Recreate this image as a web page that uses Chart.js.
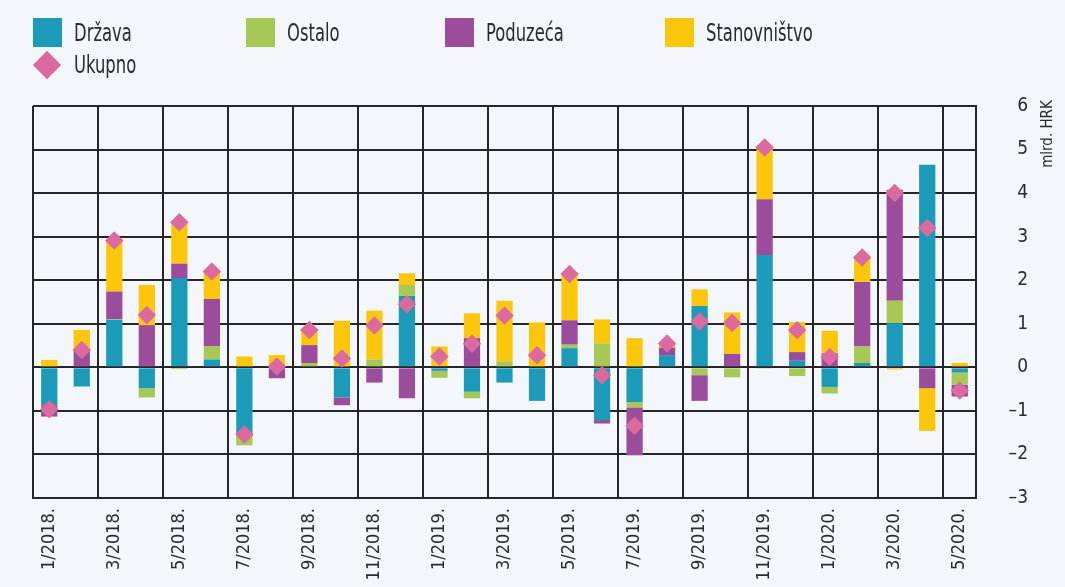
<!DOCTYPE html>
<html><head><meta charset="utf-8">
<script src="https://cdn.jsdelivr.net/npm/chart.js@4.4.1/dist/chart.umd.min.js"></script>
<style>
html,body{margin:0;padding:0;background:#f3f6fa;}
#wrap{position:relative;width:1065px;height:587px;overflow:hidden;}
canvas{position:absolute;left:0;top:0;}
.lg{position:absolute;font-family:"Liberation Sans Narrow","Arial Narrow","DejaVu Sans Condensed",sans-serif;font-size:24px;color:#2b2b2b;line-height:30px;white-space:nowrap;transform:scaleX(0.76);transform-origin:0 50%;}
.bx{position:absolute;width:29px;height:29px;}
.dm{position:absolute;width:20px;height:20px;transform:rotate(45deg);}
</style></head><body>
<div id="wrap"><canvas id="c" width="1065" height="587"></canvas><div id="legend"></div></div>
<script>
const categories = ["1/2018.","2/2018.","3/2018.","4/2018.","5/2018.","6/2018.","7/2018.","8/2018.","9/2018.","10/2018.","11/2018.","12/2018.",
  "1/2019.","2/2019.","3/2019.","4/2019.","5/2019.","6/2019.","7/2019.","8/2019.","9/2019.","10/2019.","11/2019.","12/2019.",
  "1/2020.","2/2020.","3/2020.","4/2020.","5/2020."];
const drzava       = [-0.87,-0.44,1.09,-0.48,2.05,0.18,-1.52,0,0,-0.69,0,1.64,-0.08,-0.56,-0.35,-0.77,0.44,-1.21,-0.80,0.28,1.41,0,2.58,0.15,-0.45,0.10,1.01,4.65,-0.12];
const ostalo       = [0,0,0.02,-0.21,-0.04,0.31,-0.27,0,0.10,0,0.18,0.25,-0.16,-0.15,0.13,0,0.08,0.55,-0.12,0,-0.18,-0.23,-0.03,-0.20,-0.15,0.38,0.52,0,-0.28];
const poduzeca     = [-0.26,0.40,0.63,0.97,0.33,1.08,0,-0.25,0.41,-0.18,-0.35,-0.71,0.03,0.67,0,0,0.56,-0.08,-1.10,0.17,-0.59,0.31,1.28,0.20,0.32,1.48,2.55,-0.48,-0.27];
const stanovnistvo = [0.17,0.46,1.15,0.92,0.94,0.61,0.25,0.28,0.38,1.07,1.12,0.27,0.45,0.57,1.40,1.03,1.05,0.55,0.67,0.08,0.38,0.95,1.17,0.69,0.52,0.54,-0.05,-0.98,0.10];
const ukupno       = [-0.96,0.40,2.91,1.20,3.33,2.20,-1.54,0.02,0.86,0.20,0.96,1.45,0.25,0.54,1.19,0.28,2.14,-0.18,-1.34,0.55,1.05,1.02,5.05,0.85,0.24,2.52,4.00,3.20,-0.53];
const seriesNames  = ["Država","Ostalo","Poduzeća","Stanovništvo","Ukupno"];
const seriesColors = ["#1b9bb9","#a6c955","#9b4d9b","#fcc70a","#dc6a9f"];
const yTitle = "mlrd. HRK";

const FONT = '"Liberation Sans Narrow","Arial Narrow","DejaVu Sans Condensed",sans-serif';
const GRID = "#262626";

// HTML legend
const legendPos = [{x:33,y:18},{x:246,y:18},{x:445,y:18},{x:665,y:18},{x:33,y:50}];
const legend = document.getElementById('legend');
seriesNames.forEach((n,i)=>{
  const p = legendPos[i];
  if (i < 4) {
    const b = document.createElement('div'); b.className='bx';
    b.style.left=p.x+'px'; b.style.top=p.y+'px'; b.style.background=seriesColors[i];
    legend.appendChild(b);
  } else {
    const d = document.createElement('div'); d.className='dm';
    d.style.left=(p.x+4)+'px'; d.style.top=(p.y+5)+'px'; d.style.background=seriesColors[i];
    legend.appendChild(d);
  }
  const t = document.createElement('div'); t.className='lg';
  t.style.left=(p.x+41)+'px'; t.style.top=(p.y)+'px'; t.textContent=n;
  legend.appendChild(t);
});

const topPlugin = {
  id:'topLayer',
  afterDraw(chart){
    const ctx = chart.ctx;
    const meta = chart.getDatasetMeta(4);
    meta.data.forEach(p=>p.draw(ctx, chart.chartArea));
    const ys = chart.scales.y;
    ctx.save();
    ctx.translate(ys.right + 20, chart.chartArea.top + 28);
    ctx.rotate(-Math.PI/2);
    ctx.font = '15px ' + FONT;
    ctx.fillStyle = '#2b2b2b';
    ctx.textAlign='center'; ctx.textBaseline='middle';
    ctx.fillText(yTitle,0,0);
    ctx.restore();
  }
};

const barSets = [drzava, ostalo, poduzeca, stanovnistvo].map((d,i)=>({
  type:'bar', label:seriesNames[i], data:d, backgroundColor:seriesColors[i],
  borderWidth:0, stack:'s', categoryPercentage:1.0, barPercentage:0.5
}));

new Chart(document.getElementById('c'), {
  data:{
    labels:categories,
    datasets:[...barSets, {
      type:'line', label:seriesNames[4], data:ukupno, stack:'total', order:-1,
      showLine:false, pointStyle:'rectRot', pointRadius:9, pointHoverRadius:9,
      backgroundColor:seriesColors[4], borderColor:seriesColors[4], pointBorderWidth:0
    }]
  },
  options:{
    responsive:false, animation:false,
    layout:{padding:{left:33, top:106, right:37, bottom:0}},
    plugins:{legend:{display:false}, tooltip:{enabled:false}},
    scales:{
      x:{
        stacked:true, offset:true, z:1,
        grid:{offset:true, drawTicks:false, lineWidth:2,
          color:(c)=> (c.index!==undefined && c.index%2===0) ? GRID : 'rgba(0,0,0,0)'},
        border:{display:true, color:GRID, width:2},
        ticks:{autoSkip:false, minRotation:90, maxRotation:90, padding:10,
          color:'#2b2b2b', font:{family:FONT, size:18},
          callback:(v,i)=> i%2===0 ? categories[i] : ''},
        afterFit:(s)=>{ s.height = 89; }
      },
      y:{
        position:'right', stacked:true, min:-3, max:6, z:1,
        grid:{drawTicks:false, lineWidth:2, color:GRID},
        border:{display:true, color:GRID, width:2},
        ticks:{stepSize:1, crossAlign:'far', color:'#2b2b2b', font:{family:FONT, size:19},
          callback:(v)=> v<0 ? '\u2013'+Math.abs(v) : String(v)},
        afterFit:(s)=>{ s.width = 52; }
      }
    }
  },
  plugins:[topPlugin]
});
</script>
</body></html>
